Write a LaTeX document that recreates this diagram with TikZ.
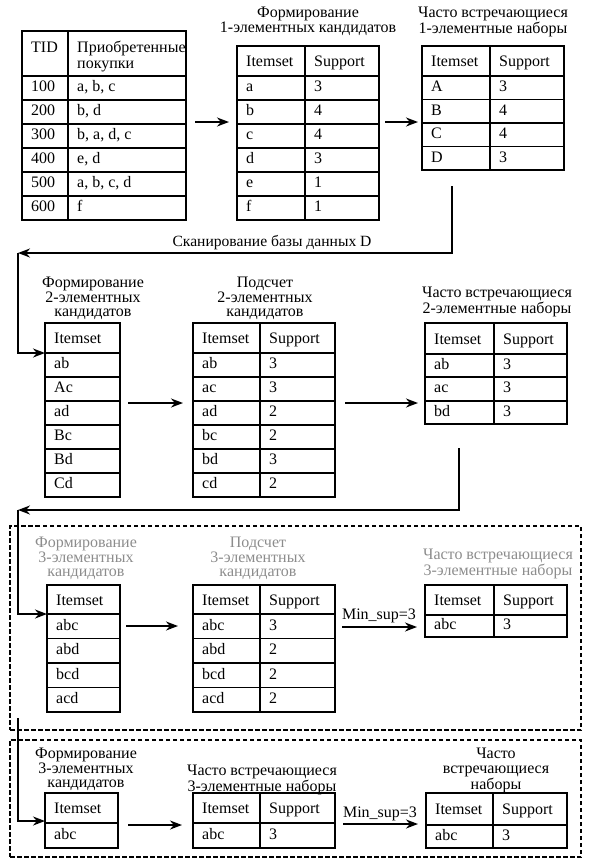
\documentclass[tikz,border=0pt]{standalone}
\usepackage{fontspec}
\setmainfont{Liberation Serif}
\usetikzlibrary{arrows.meta,calc}
\tikzset{
 frame/.style={draw, line width=2.2pt, anchor=north west, inner sep=0pt, outer sep=0pt},
 hline/.style={line width=1.8pt},
 vline/.style={line width=2.6pt},
 cell/.style={inner sep=0pt, anchor=west, text height=11pt, text depth=3.5pt, font=\fontsize{16}{18}\selectfont},
 lbl/.style={align=center, inner sep=0pt, anchor=north, font=\fontsize{16}{14.5}\selectfont},
 glbl/.style={lbl, text=black!45},
 arr/.style={line width=1.8pt, -{Stealth[length=12pt,width=9pt]}},
 dbox/.style={draw, line width=1.8pt, dash pattern=on 4.5pt off 2.5pt, anchor=north west, inner sep=0pt, outer sep=0pt},
}
% #1 name, #2 L, #3 D (0 = none), #4 R, #5 T, #6 H, #7 B
\newcommand{\tabframe}[7]{%
 \node[frame, minimum width={(#4-#2)*1pt}, minimum height={(#7-#5)*1pt}] (#1) at (#2,#5) {};
 \draw[hline] (#2,#6) -- (#4,#6);
 \ifdim #3pt>0pt \draw[vline] (#3,#5) -- (#3,#7); \fi
}
% #1 name, #2 L, #3 D, #4 T, #5 H, #6 text1, #7 text2
\newcommand{\tabhead}[7]{%
 \node[cell] (#1-h1) at (#2+9,{(#4+#5)/2+2}) {#6};
 \ifdim #3pt>0pt \node[cell] (#1-h2) at (#3+9,{(#4+#5)/2+2}) {#7}; \fi
}
% #1 name, #2 L, #3 D, #4 R, #5 H, #6 row height, #7 list
\newcommand{\tabrows}[7]{%
 \foreach \a/\b [count=\i] in {#7} {
   \pgfmathsetmacro\yc{#5+(\i-0.5)*#6}
   \pgfmathsetmacro\yl{#5+\i*#6}
   \node[cell] (#1-\i-a) at (#2+9,\yc) {\a};
   \ifdim #3pt>0pt \node[cell] (#1-\i-b) at (#3+9,\yc) {\b}; \fi
   \draw[hline] (#2,\yl) -- (#4,\yl);
 }
}
\begin{document}
\begin{tikzpicture}[x=1pt,y=-1pt]
\useasboundingbox (0,0) rectangle (590,868);

% dashed boxes
\node[dbox, minimum width=571pt, minimum height=204pt] (box1) at (10,526) {};
\node[dbox, minimum width=571pt, minimum height=117pt] (box2) at (10,740) {};

% table 1
\tabframe{t1}{22}{68}{186}{31}{76}{220}
\node[cell] (t1-h1) at (31,49) {TID};
\node[cell, align=left, text height=, text depth=, font=\fontsize{16}{16}\selectfont] (t1-h2) at (77,56) {Приобретенные\\покупки};
\tabrows{t1}{22}{68}{186}{76}{24}{100/{a, b, c},200/{b, d},300/{b, a, d, c},400/{e, d},500/{a, b, c, d},600/f}

% table 2
\node[lbl] (l2) at (308,7) {Формирование\\1-элементных кандидатов};
\tabframe{t2}{237}{305}{379}{46}{76}{220}
\tabhead{t2}{237}{305}{46}{76}{Itemset}{Support}
\tabrows{t2}{237}{305}{379}{76}{24}{a/3,b/4,c/4,d/3,e/1,f/1}

% table 3
\node[lbl] (l3) at (493,7) {Часто встречающиеся\\1-элементные наборы};
\tabframe{t3}{422}{490}{564}{46}{76}{170}
\tabhead{t3}{422}{490}{46}{76}{Itemset}{Support}
\tabrows{t3}{422}{490}{564}{76}{23.5}{A/3,B/4,C/4,D/3}

% table 4
\node[lbl] (l4) at (93,277) {Формирование\\2-элементных\\кандидатов};
\tabframe{t4}{45}{0}{120}{323}{353}{497}
\tabhead{t4}{45}{0}{323}{353}{Itemset}{}
\tabrows{t4}{45}{0}{120}{353}{24}{ab,Ac,ad,Bc,Bd,Cd}

% table 5
\node[lbl] (l5) at (265,277) {Подсчет\\2-элементных\\кандидатов};
\tabframe{t5}{193}{260}{335}{323}{353}{497}
\tabhead{t5}{193}{260}{323}{353}{Itemset}{Support}
\tabrows{t5}{193}{260}{335}{353}{24}{ab/3,ac/3,ad/2,bc/2,bd/3,cd/2}

% table 6
\node[lbl] (l6) at (497,287) {Часто встречающиеся\\2-элементные наборы};
\tabframe{t6}{425}{494}{567}{323}{354}{424}
\tabhead{t6}{425}{494}{323}{354}{Itemset}{Support}
\tabrows{t6}{425}{494}{567}{354}{23.33}{ab/3,ac/3,bd/3}

% table 7
\node[glbl] (l7) at (86,537) {Формирование\\3-элементных\\кандидатов};
\tabframe{t7}{47}{0}{120}{585}{614}{712}
\tabhead{t7}{47}{0}{585}{614}{Itemset}{}
\tabrows{t7}{47}{0}{120}{614}{24.5}{abc,abd,bcd,acd}

% table 8
\node[glbl] (l8) at (258,537) {Подсчет\\3-элементных\\кандидатов};
\tabframe{t8}{193}{260}{335}{585}{614}{712}
\tabhead{t8}{193}{260}{585}{614}{Itemset}{Support}
\tabrows{t8}{193}{260}{335}{614}{24.5}{abc/3,abd/2,bcd/2,acd/2}

% table 9
\node[glbl] (l9) at (498,549) {Часто встречающиеся\\3-элементные наборы};
\tabframe{t9}{425}{494}{567}{585}{615}{637}
\tabhead{t9}{425}{494}{585}{615}{Itemset}{Support}
\tabrows{t9}{425}{494}{567}{615}{22}{abc/3}

% table 10
\node[lbl] (l10) at (86,748) {Формирование\\3-элементных\\кандидатов};
\tabframe{t10}{45}{0}{118}{793}{823}{848}
\tabhead{t10}{45}{0}{793}{823}{Itemset}{}
\tabrows{t10}{45}{0}{118}{823}{25}{abc}

% table 11
\node[lbl] (l11) at (262,765) {Часто встречающиеся\\3-элементные наборы};
\tabframe{t11}{193}{260}{335}{793}{823}{848}
\tabhead{t11}{193}{260}{793}{823}{Itemset}{Support}
\tabrows{t11}{193}{260}{335}{823}{25}{abc/3}

% table 12
\node[lbl] (l12) at (496,748) {Часто\\встречающиеся\\наборы};
\tabframe{t12}{426}{493}{567}{793}{825}{848}
\tabhead{t12}{426}{493}{793}{825}{Itemset}{Support}
\tabrows{t12}{426}{493}{567}{825}{23}{abc/3}

% straight arrows
\draw[arr] ($(t1.east)+(9,-3.5)$) -- ($(t2.west)+(-8,-11)$);
\draw[arr] ($(t2.east)+(6,-11)$) -- ($(t3.west)+(-4,14)$);
\draw[arr] ($(t4.east)+(8,-7)$) -- ($(t5.west)+(-10,-7)$);
\draw[arr] ($(t5.east)+(10,-7)$) -- ($(t6.west)+(-7,29.5)$);
\draw[arr] ($(t7.east)+(6,-22.5)$) -- ($(t8.west)+(-15,-22.5)$);
\draw[arr] ($(t8.east)+(7,-21.5)$) -- ($(t9.west)+(-8,16)$);
\draw[arr] ($(t10.east)+(10,4.5)$) -- ($(t11.west)+(-11,4.5)$);
\draw[arr] ($(t11.east)+(8,3.5)$) -- ($(t12.west)+(-8,3.5)$);

\node[cell, anchor=base] (m1) at (379,619) {Min\_sup=3};
\node[cell, anchor=base] (m2) at (380,817) {Min\_sup=3};

% elbow connectors
\coordinate (k1) at (18,253);
\draw[arr] ($(t3.south)+(-41,16)$) |- (k1);
\draw[arr] (k1) |- ($(t4.north west)+(0,30)$);
\node[anchor=base, inner sep=0pt, font=\fontsize{15.6}{16}\selectfont] (scan) at (272,246) {Сканирование базы данных D};

\coordinate (k2) at (18,510);
\draw[arr] ($(t6.south)+(-37,24)$) |- (k2);
\draw[arr] (k2) |- ($(t7.north west)+(0,29)$);

\draw[arr] ($(box1.south west)+(8,-12)$) |- ($(t10.north west)+(0,28)$);
\end{tikzpicture}
\end{document}
